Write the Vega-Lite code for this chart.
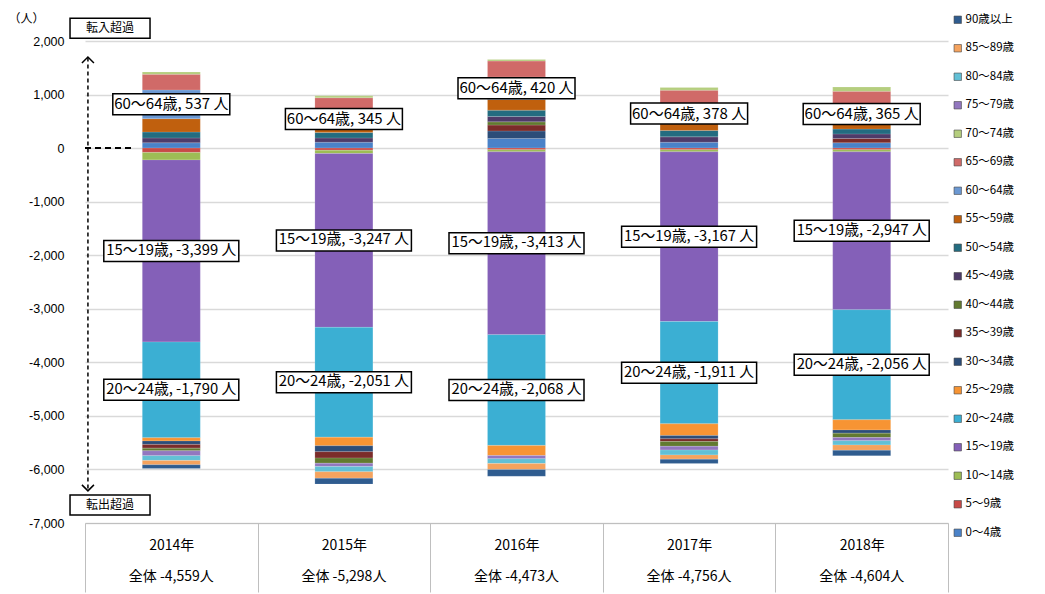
{
"$schema":"https://vega.github.io/schema/vega-lite/v6.json",
"width":863,"height":482,
"autosize":{"type":"none"},
"padding":{"left":85,"top":41,"right":97,"bottom":71},
"background":"white",
"config":{"font":"Noto Sans CJK JP","view":{"stroke":null},"axis":{"labelFont":"Noto Sans CJK JP","titleFont":"Noto Sans CJK JP"}},
"datasets":{
"ages":[
{"year":"2014年","age":"0〜4歳","order":0,"value":100},{"year":"2014年","age":"5〜9歳","order":1,"value":-80},{"year":"2014年","age":"10〜14歳","order":2,"value":-140},{"year":"2014年","age":"15〜19歳","order":3,"value":-3399},{"year":"2014年","age":"20〜24歳","order":4,"value":-1790},{"year":"2014年","age":"25〜29歳","order":5,"value":-60},{"year":"2014年","age":"30〜34歳","order":6,"value":-63},{"year":"2014年","age":"35〜39歳","order":7,"value":-70},{"year":"2014年","age":"40〜44歳","order":8,"value":-50},{"year":"2014年","age":"45〜49歳","order":9,"value":90},{"year":"2014年","age":"50〜54歳","order":10,"value":110},{"year":"2014年","age":"55〜59歳","order":11,"value":250},{"year":"2014年","age":"60〜64歳","order":12,"value":537},{"year":"2014年","age":"65〜69歳","order":13,"value":290},{"year":"2014年","age":"70〜74歳","order":14,"value":46},{"year":"2014年","age":"75〜79歳","order":15,"value":-90},{"year":"2014年","age":"80〜84歳","order":16,"value":-90},{"year":"2014年","age":"85〜89歳","order":17,"value":-80},{"year":"2014年","age":"90歳以上","order":18,"value":-70},
{"year":"2015年","age":"0〜4歳","order":0,"value":110},{"year":"2015年","age":"5〜9歳","order":1,"value":-40},{"year":"2015年","age":"10〜14歳","order":2,"value":-60},{"year":"2015年","age":"15〜19歳","order":3,"value":-3247},{"year":"2015年","age":"20〜24歳","order":4,"value":-2051},{"year":"2015年","age":"25〜29歳","order":5,"value":-160},{"year":"2015年","age":"30〜34歳","order":6,"value":-110},{"year":"2015年","age":"35〜39歳","order":7,"value":-120},{"year":"2015年","age":"40〜44歳","order":8,"value":-96},{"year":"2015年","age":"45〜49歳","order":9,"value":80},{"year":"2015年","age":"50〜54歳","order":10,"value":100},{"year":"2015年","age":"55〜59歳","order":11,"value":80},{"year":"2015年","age":"60〜64歳","order":12,"value":345},{"year":"2015年","age":"65〜69歳","order":13,"value":225},{"year":"2015年","age":"70〜74歳","order":14,"value":36},{"year":"2015年","age":"75〜79歳","order":15,"value":-60},{"year":"2015年","age":"80〜84歳","order":16,"value":-100},{"year":"2015年","age":"85〜89歳","order":17,"value":-120},{"year":"2015年","age":"90歳以上","order":18,"value":-110},
{"year":"2016年","age":"0〜4歳","order":0,"value":180},{"year":"2016年","age":"5〜9歳","order":1,"value":-30},{"year":"2016年","age":"10〜14歳","order":2,"value":-40},{"year":"2016年","age":"15〜19歳","order":3,"value":-3413},{"year":"2016年","age":"20〜24歳","order":4,"value":-2068},{"year":"2016年","age":"25〜29歳","order":5,"value":-190},{"year":"2016年","age":"30〜34歳","order":6,"value":140},{"year":"2016年","age":"35〜39歳","order":7,"value":110},{"year":"2016年","age":"40〜44歳","order":8,"value":60},{"year":"2016年","age":"45〜49歳","order":9,"value":100},{"year":"2016年","age":"50〜54歳","order":10,"value":119},{"year":"2016年","age":"55〜59歳","order":11,"value":200},{"year":"2016年","age":"60〜64歳","order":12,"value":420},{"year":"2016年","age":"65〜69歳","order":13,"value":296},{"year":"2016年","age":"70〜74歳","order":14,"value":30},{"year":"2016年","age":"75〜79歳","order":15,"value":-60},{"year":"2016年","age":"80〜84歳","order":16,"value":-90},{"year":"2016年","age":"85〜89歳","order":17,"value":-110},{"year":"2016年","age":"90歳以上","order":18,"value":-127},
{"year":"2017年","age":"0〜4歳","order":0,"value":110},{"year":"2017年","age":"5〜9歳","order":1,"value":-30},{"year":"2017年","age":"10〜14歳","order":2,"value":-40},{"year":"2017年","age":"15〜19歳","order":3,"value":-3167},{"year":"2017年","age":"20〜24歳","order":4,"value":-1911},{"year":"2017年","age":"25〜29歳","order":5,"value":-220},{"year":"2017年","age":"30〜34歳","order":6,"value":-60},{"year":"2017年","age":"35〜39歳","order":7,"value":-50},{"year":"2017年","age":"40〜44歳","order":8,"value":-90},{"year":"2017年","age":"45〜49歳","order":9,"value":100},{"year":"2017年","age":"50〜54歳","order":10,"value":120},{"year":"2017年","age":"55〜59歳","order":11,"value":125},{"year":"2017年","age":"60〜64歳","order":12,"value":378},{"year":"2017年","age":"65〜69歳","order":13,"value":249},{"year":"2017年","age":"70〜74歳","order":14,"value":50},{"year":"2017年","age":"75〜79歳","order":15,"value":-70},{"year":"2017年","age":"80〜84歳","order":16,"value":-90},{"year":"2017年","age":"85〜89歳","order":17,"value":-80},{"year":"2017年","age":"90歳以上","order":18,"value":-80},
{"year":"2018年","age":"0〜4歳","order":0,"value":100},{"year":"2018年","age":"5〜9歳","order":1,"value":-30},{"year":"2018年","age":"10〜14歳","order":2,"value":-40},{"year":"2018年","age":"15〜19歳","order":3,"value":-2947},{"year":"2018年","age":"20〜24歳","order":4,"value":-2056},{"year":"2018年","age":"25〜29歳","order":5,"value":-190},{"year":"2018年","age":"30〜34歳","order":6,"value":-60},{"year":"2018年","age":"35〜39歳","order":7,"value":80},{"year":"2018年","age":"40〜44歳","order":8,"value":-80},{"year":"2018年","age":"45〜49歳","order":9,"value":85},{"year":"2018年","age":"50〜54歳","order":10,"value":90},{"year":"2018年","age":"55〜59歳","order":11,"value":100},{"year":"2018年","age":"60〜64歳","order":12,"value":365},{"year":"2018年","age":"65〜69歳","order":13,"value":240},{"year":"2018年","age":"70〜74歳","order":14,"value":80},{"year":"2018年","age":"75〜79歳","order":15,"value":-60},{"year":"2018年","age":"80〜84歳","order":16,"value":-80},{"year":"2018年","age":"85〜89歳","order":17,"value":-100},{"year":"2018年","age":"90歳以上","order":18,"value":-101}
],
"totals":[
{"year":"2014年","total":-4559},{"year":"2015年","total":-5298},{"year":"2016年","total":-4473},{"year":"2017年","total":-4756},{"year":"2018年","total":-4604}
]
},
"layer":[
{
"data":{"name":"ages"},
"transform":[{"stack":"value","groupby":["year"],"sort":[{"field":"order","order":"ascending"}],"as":["y0","y1"]}],
"mark":{"type":"bar","width":58,"stroke":"#FFFFFF","strokeOpacity":0.3,"strokeWidth":0.5},
"encoding":{
"x":{"field":"year","type":"nominal","sort":null,"scale":{"paddingInner":0,"paddingOuter":0},
"axis":{"title":null,"labelAngle":0,"domainColor":"#BFBFBF","domainWidth":1,"tickBand":"extent","tickSize":69,"tickColor":"#BFBFBF","tickWidth":1,"labelPadding":-54,"labelFontSize":14,"labelColor":"#000000","grid":false}},
"y":{"field":"y0","type":"quantitative","scale":{"domain":[-7000,2000],"nice":false,"zero":false},
"axis":{"title":"（人）","titleAngle":0,"titleX":-77,"titleY":-23,"titleAlign":"left","titleBaseline":"middle","titleFontWeight":"normal","titleFontSize":12,"titleColor":"#000000",
"values":[2000,1000,0,-1000,-2000,-3000,-4000,-5000,-6000,-7000],"labelExpr":"(datum.value < 0 ? '-' : '') + format(abs(datum.value), ',')","domain":false,"ticks":false,"labelPadding":21,"labelFontSize":12.5,"labelColor":"#000000","labelFont":"Liberation Sans","gridColor":"#D9D9D9","gridWidth":1.5}},
"y2":{"field":"y1"},
"color":{"field":"age","type":"nominal",
"scale":{"domain":["90歳以上","85〜89歳","80〜84歳","75〜79歳","70〜74歳","65〜69歳","60〜64歳","55〜59歳","50〜54歳","45〜49歳","40〜44歳","35〜39歳","30〜34歳","25〜29歳","20〜24歳","15〜19歳","10〜14歳","5〜9歳","0〜4歳"],
"range":["#2F5C8F","#F5A35E","#62C0D6","#9277BF","#B5CE7E","#D06A68","#6B98D2","#C0600E","#236C80","#4E3B69","#627A30","#7B2C2A","#2C4D78","#F79433","#3BAFD3","#8460B8","#9DBD55","#C84A47","#4A82C8"]},
"legend":{"title":null,"orient":"none","legendX":867,"legendY":-27,"symbolType":"square","symbolSize":55,"symbolStrokeColor":"#444444","symbolStrokeWidth":0.6,"labelFontSize":11.5,"labelFont":"Noto Sans CJK JP","labelColor":"#000000","rowPadding":15.5,"labelOffset":2}}
}
},
{
"data":{"values":[{}]},
"mark":{"type":"rule","color":"#000000","strokeWidth":2,"strokeDash":[6,4]},
"encoding":{"x":{"datum":"2014年","bandPosition":0},"x2":{"datum":"2014年","bandPosition":0.27},"y":{"datum":0}}
},
{
"data":{"values":[{}]},
"mark":{"type":"rule","color":"#000000","strokeWidth":1.5,"strokeDash":[4,3]},
"encoding":{"x":{"datum":"2014年","bandPosition":0.017},"y":{"datum":1690},"y2":{"datum":-6390}}
},
{
"data":{"values":[{}]},
"mark":{"type":"point","shape":"M-1,1L0,0L1,1","size":144,"filled":false,"color":"#000000","strokeWidth":1.5,"opacity":1},
"encoding":{"x":{"datum":"2014年","bandPosition":0.017},"y":{"datum":1700}}
},
{
"data":{"values":[{}]},
"mark":{"type":"point","shape":"M-1,-1L0,0L1,-1","size":144,"filled":false,"color":"#000000","strokeWidth":1.5,"opacity":1},
"encoding":{"x":{"datum":"2014年","bandPosition":0.017},"y":{"datum":-6400}}
},
{
"data":{"values":[{}]},
"layer":[
{"mark":{"type":"point","shape":"M-1,-0.25H1V0.25H-1Z","size":6400,"filled":true,"fill":"#FFFFFF","stroke":"#000000","strokeWidth":1.5,"opacity":1},
"encoding":{"x":{"datum":"2014年","bandPosition":0.145},"y":{"datum":2240}}},
{"mark":{"type":"text","text":"転入超過","fontSize":12,"color":"#000000"},
"encoding":{"x":{"datum":"2014年","bandPosition":0.145},"y":{"datum":2240}}},
{"mark":{"type":"point","shape":"M-1,-0.25H1V0.25H-1Z","size":6400,"filled":true,"fill":"#FFFFFF","stroke":"#000000","strokeWidth":1.5,"opacity":1},
"encoding":{"x":{"datum":"2014年","bandPosition":0.145},"y":{"datum":-6665}}},
{"mark":{"type":"text","text":"転出超過","fontSize":12,"color":"#000000"},
"encoding":{"x":{"datum":"2014年","bandPosition":0.145},"y":{"datum":-6665}}}
]
},
{
"data":{"name":"ages"},
"transform":[
{"stack":"value","groupby":["year"],"sort":[{"field":"order","order":"ascending"}],"as":["y0","y1"]},
{"filter":{"field":"age","equal":"60〜64歳"}},
{"fold":["y0","y1"],"as":["edge","pos"]},
{"aggregate":[{"op":"mean","field":"pos","as":"mid"}],"groupby":["year","age","value"]}
],
"encoding":{"x":{"field":"year","type":"nominal","sort":null},"y":{"field":"mid","type":"quantitative"}},
"layer":[
{"mark":{"type":"point","shape":"M-1,-0.1795H1V0.1795H-1Z","size":13689,"filled":true,"fill":"#FFFFFF","stroke":"#000000","strokeWidth":1.5,"opacity":1}},
{"mark":{"type":"text","fontSize":15,"color":"#000000","text":{"expr":"datum.age + ', ' + (datum.value < 0 ? '-' : '') + format(abs(datum.value), ',') + ' 人'"}}}
]
},
{
"data":{"name":"ages"},
"transform":[
{"stack":"value","groupby":["year"],"sort":[{"field":"order","order":"ascending"}],"as":["y0","y1"]},
{"filter":{"field":"age","oneOf":["15〜19歳","20〜24歳"]}},
{"fold":["y0","y1"],"as":["edge","pos"]},
{"aggregate":[{"op":"mean","field":"pos","as":"mid"}],"groupby":["year","age","value"]}
],
"encoding":{"x":{"field":"year","type":"nominal","sort":null},"y":{"field":"mid","type":"quantitative"}},
"layer":[
{"mark":{"type":"point","shape":"M-1,-0.1556H1V0.1556H-1Z","size":18225,"filled":true,"fill":"#FFFFFF","stroke":"#000000","strokeWidth":1.5,"opacity":1}},
{"mark":{"type":"text","fontSize":14.8,"color":"#000000","text":{"expr":"datum.age + ', ' + (datum.value < 0 ? '-' : '') + format(abs(datum.value), ',') + ' 人'"}}}
]
},
{
"data":{"name":"totals"},
"mark":{"type":"text","fontSize":14,"color":"#000000","text":{"expr":"'全体  ' + (datum.total < 0 ? '-' : '') + format(abs(datum.total), ',') + '人'"}},
"encoding":{"x":{"field":"year","type":"nominal","sort":null},"y":{"datum":-8000}}
}
]
}
